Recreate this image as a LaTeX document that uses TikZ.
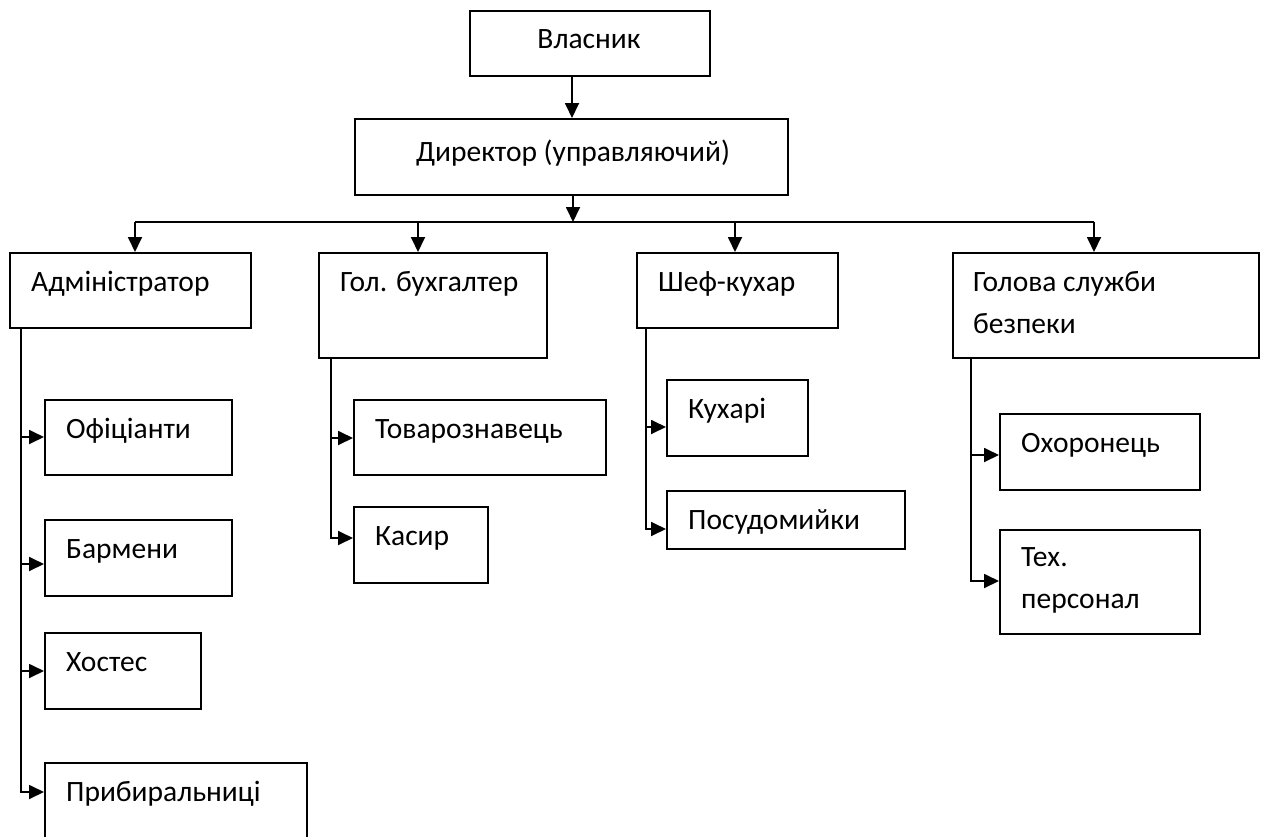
\documentclass[tikz,border=0pt]{standalone}
\usepackage{fontspec}
\setmainfont{Carlito}
\usetikzlibrary{arrows.meta}
\begin{document}
\begin{tikzpicture}[x=1pt,y=-1pt,
  box/.style={draw, line width=1.8pt, inner sep=0pt, anchor=north west},
  lbl/.style={anchor=base west, inner sep=0pt, align=left, font=\fontsize{29.5}{42}\selectfont},
  clbl/.style={anchor=base, inner sep=0pt, font=\fontsize{29.5}{42}\selectfont},
  ln/.style={line width=1.8pt},
  arr/.style={line width=1.8pt, -{Triangle[length=15pt,width=14pt]}}]
\useasboundingbox (0,0) rectangle (1261,836);
\clip (0,0) rectangle (1261,836);
% top
\node[box, minimum width=240pt, minimum height=65pt] (vlas) at (469,10) {};
\node[clbl] (tvlas) at (589,48) {Власник};
\node[box, minimum width=433pt, minimum height=76pt] (dir) at (354,118) {};
\node[clbl] (tdir) at (573,161) {Директор (управляючий)};
% level 2
\node[box, minimum width=241pt, minimum height=75pt] (adm) at (9,252) {};
\node[lbl] (tadm) at (31,291) {Адміністратор};
\node[box, minimum width=228pt, minimum height=105pt] (buh) at (318,252) {};
\node[lbl] (tbuh) at (340,291) {Гол. бухгалтер};
\node[box, minimum width=201pt, minimum height=75pt] (chef) at (636,252) {};
\node[lbl] (tchef) at (658,291) {Шеф-кухар};
\node[box, minimum width=306pt, minimum height=105pt] (sec) at (952,252) {};
\node[lbl] (tsec) at (973,333) {Голова служби\\безпеки};
% admin children
\node[box, minimum width=187pt, minimum height=75pt] (ofic) at (44,399) {};
\node[lbl] (tofic) at (66,438) {Офіціанти};
\node[box, minimum width=187pt, minimum height=76pt] (barm) at (44,519) {};
\node[lbl] (tbarm) at (66,558) {Бармени};
\node[box, minimum width=156pt, minimum height=76pt] (host) at (44,632) {};
\node[lbl] (thost) at (66,671) {Хостес};
\node[box, minimum width=262pt, minimum height=84pt] (prib) at (44,762) {};
\node[lbl] (tprib) at (66,801) {Прибиральниці};
% accountant children
\node[box, minimum width=252pt, minimum height=75pt] (tovar) at (353,399) {};
\node[lbl] (ttovar) at (375,438) {Товарознавець};
\node[box, minimum width=134pt, minimum height=76pt] (kas) at (353,506) {};
\node[lbl] (tkas) at (375,545) {Касир};
% chef children
\node[box, minimum width=141pt, minimum height=76pt] (kuh) at (666,379) {};
\node[lbl] (tkuh) at (688,418) {Кухарі};
\node[box, minimum width=238pt, minimum height=58pt] (pos) at (666,490) {};
\node[lbl] (tpos) at (688,529) {Посудомийки};
% security children
\node[box, minimum width=200pt, minimum height=76pt] (ohor) at (999,413) {};
\node[lbl] (tohor) at (1021,452) {Охоронець};
\node[box, minimum width=200pt, minimum height=104pt] (tech) at (999,529) {};
\node[lbl] (ttech) at (1021,608) {Тех.\\персонал};
% connectors top
\coordinate (va) at (572,0);
\draw[arr] (va |- vlas.south) -- (va |- dir.north);
\coordinate (bus) at (573,222);
\coordinate (b1) at (135,222);
\coordinate (b2) at (418,222);
\coordinate (b3) at (735,222);
\coordinate (b4) at (1094,222);
\draw[arr] (bus |- dir.south) -- (bus);
\draw[ln] (b1) -- (b4);
\draw[arr] (b1) -- (b1 |- adm.north);
\draw[arr] (b2) -- (b2 |- buh.north);
\draw[arr] (b3) -- (b3 |- chef.north);
\draw[arr] (b4) -- (b4 |- sec.north);
% trunks
\coordinate (tA) at (21,0);
\coordinate (tB) at (331,0);
\coordinate (tC) at (646,0);
\coordinate (tD) at (971,0);
\draw[arr] (tA |- adm.south) |- (prib.west |- 0,792);
\draw[arr] (tA |- 0,437) -- (ofic.west |- 0,437);
\draw[arr] (tA |- 0,564) -- (barm.west |- 0,564);
\draw[arr] (tA |- 0,671) -- (host.west |- 0,671);
\draw[arr] (tB |- buh.south) |- (kas.west |- 0,538);
\draw[arr] (tB |- 0,438) -- (tovar.west |- 0,438);
\draw[arr] (tC |- chef.south) |- (pos.west |- 0,529);
\draw[arr] (tC |- 0,427) -- (kuh.west |- 0,427);
\draw[arr] (tD |- sec.south) |- (tech.west |- 0,581);
\draw[arr] (tD |- 0,455) -- (ohor.west |- 0,455);
\end{tikzpicture}
\end{document}
